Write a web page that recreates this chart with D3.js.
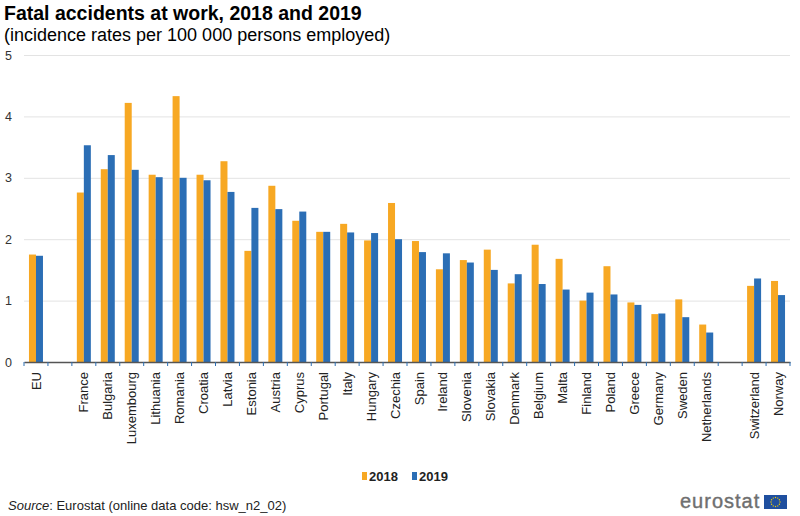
<!DOCTYPE html>
<html><head><meta charset="utf-8">
<script src="https://cdn.jsdelivr.net/npm/d3@7"></script>
<style>body{margin:0;background:#fff;}svg{display:block;font-family:Arial,"Liberation Sans",sans-serif;}</style>
</head><body>
<script>
const categories = ["EU","","France","Bulgaria","Luxembourg","Lithuania","Romania","Croatia","Latvia","Estonia","Austria","Cyprus","Portugal","Italy","Hungary","Czechia","Spain","Ireland","Slovenia","Slovakia","Denmark","Belgium","Malta","Finland","Poland","Greece","Germany","Sweden","Netherlands"," ","Switzerland","Norway"];
const values2018 = [1.75,null,2.76,3.14,4.22,3.05,4.33,3.05,3.27,1.81,2.87,2.30,2.12,2.25,1.98,2.59,1.97,1.51,1.66,1.83,1.28,1.91,1.68,1.00,1.56,0.97,0.78,1.02,0.61,null,1.24,1.32];
const values2019 = [1.73,null,3.53,3.37,3.13,3.01,3.00,2.96,2.77,2.51,2.49,2.45,2.12,2.11,2.10,2.00,1.79,1.77,1.62,1.50,1.43,1.27,1.18,1.13,1.10,0.93,0.79,0.73,0.48,null,1.36,1.09];
const seriesNames = ["2018","2019"];
const yTicks = [0,1,2,3,4,5];
const colors = ["#F7A823","#2B6EB5"];

(function(){
const W=800,H=516;
const svg=d3.select("body").append("svg").attr("width",W).attr("height",H);
const pL=24,pR=790,pT=55,pB=362;

const x=d3.scaleBand().domain(categories).range([pL,pR]).paddingInner(0).paddingOuter(0);
const y=d3.scaleLinear().domain([0,5]).range([pB,pT]);
const x1=d3.scaleBand().domain(seriesNames).range([x.bandwidth()/2-7,x.bandwidth()/2+7]);

// title
svg.append("text").attr("x",4).attr("y",20).attr("font-size",19.5).attr("font-weight","bold").attr("fill","#000").text("Fatal accidents at work, 2018 and 2019");
svg.append("text").attr("x",4).attr("y",41).attr("font-size",18).attr("fill","#000").text("(incidence rates per 100 000 persons employed)");

// grid
const yAxis=d3.axisLeft(y).tickValues(yTicks).tickSize(-(pR-pL)).tickFormat(d3.format("d"));
const gy=svg.append("g").attr("transform",`translate(${pL},0)`).call(yAxis);
gy.select(".domain").remove();
gy.selectAll(".tick line").attr("stroke","#e3e3e3").attr("stroke-width",1);
gy.selectAll(".tick text").attr("x",-15.5).attr("text-anchor","middle").attr("font-size",12.5).attr("fill","#333").attr("font-family","Arial,'Liberation Sans',sans-serif");

// bars
const data=categories.map((c,i)=>({c,v:[values2018[i],values2019[i]]}));
const g=svg.append("g");
data.forEach(d=>{
  d.v.forEach((v,j)=>{
    if(v==null) return;
    g.append("rect").attr("x",x(d.c)+x1(seriesNames[j])).attr("width",x1.bandwidth())
      .attr("y",y(v)).attr("height",y(0)-y(v)).attr("fill",colors[j]);
  });
});

// x axis
const xAxis=d3.axisBottom(x).tickSize(0).tickFormat(d=>d.trim());
const gx=svg.append("g").attr("transform",`translate(0,${pB})`).call(xAxis);
gx.select(".domain").attr("stroke","#555").attr("stroke-width",1.5);
gx.selectAll(".tick text").attr("transform","rotate(-90)").attr("text-anchor","end").attr("x",-10).attr("y",0).attr("dy","0.35em").attr("font-size",13).attr("fill","#222").attr("font-family","Arial,'Liberation Sans',sans-serif");
const bounds=categories.map(c=>x(c)).concat([pR]);
svg.append("g").selectAll("line").data(bounds).join("line")
  .attr("x1",d=>d).attr("x2",d=>d).attr("y1",pB).attr("y2",pB+4)
  .attr("stroke","#2B6EB5").attr("stroke-width",1);

// legend
const lg=svg.append("g").attr("transform","translate(362,476)");
seriesNames.forEach((s,i)=>{
  const gg=lg.append("g").attr("transform",`translate(${i*50},0)`);
  gg.append("rect").attr("x",0).attr("y",-4).attr("width",5).attr("height",8).attr("fill",colors[i]);
  gg.append("text").attr("x",7).attr("y",0).attr("dy","0.35em").attr("font-size",13).attr("font-weight","bold").attr("fill","#222").text(s);
});

// source
const src=svg.append("text").attr("x",8).attr("y",510).attr("font-size",13).attr("fill","#222");
src.append("tspan").attr("font-style","italic").text("Source");
src.append("tspan").text(": Eurostat (online data code: hsw_n2_02)");

// logo
svg.append("text").attr("x",680).attr("y",508).attr("font-size",20).attr("fill","#6f6f6f").attr("stroke","#6f6f6f").attr("stroke-width",0.4).attr("letter-spacing","1").text("eurostat");
svg.append("rect").attr("x",764).attr("y",495).attr("width",23).attr("height",14).attr("fill","#1f4f9f");
const stars=d3.range(12).map(i=>[775.5+4.5*Math.cos(i*Math.PI/6),502+4.5*Math.sin(i*Math.PI/6)]);
svg.append("g").selectAll("circle").data(stars).join("circle").attr("cx",d=>d[0]).attr("cy",d=>d[1]).attr("r",0.7).attr("fill","#f5d000");
})();
</script>
</body></html>
